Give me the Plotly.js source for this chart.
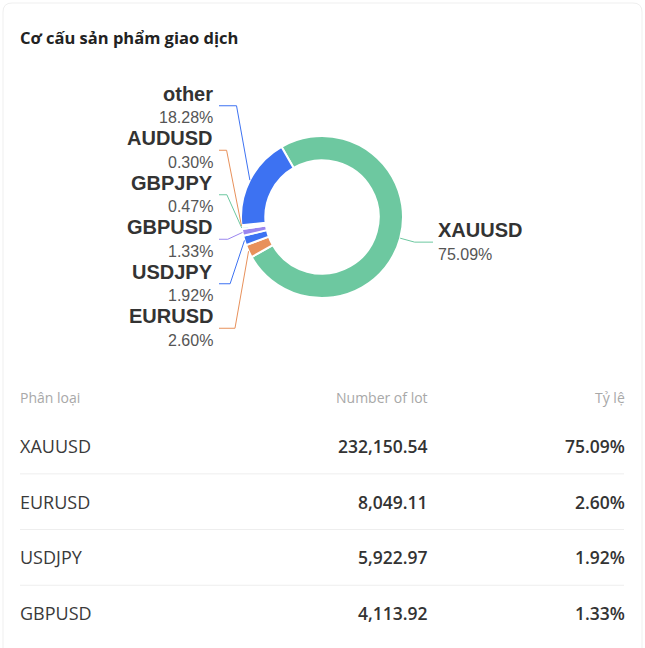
<!DOCTYPE html>
<html><head><meta charset="utf-8">
<script src="https://cdn.plot.ly/plotly-3.0.1.min.js"></script>
<style>html,body{margin:0;padding:0;background:#fff;}#chart{width:645px;height:648px;}</style>
</head><body><div id="chart"></div>
<script>
// ---- data ----
const chartTitle = 'Cơ cấu sản phẩm giao dịch';
const pieLabels = ['XAUUSD', 'EURUSD', 'USDJPY', 'GBPUSD', 'GBPJPY', 'AUDUSD', 'other'];
const piePercents = [75.09, 2.60, 1.92, 1.33, 0.47, 0.30, 18.28];
const tableHeaders = ['Phân loại', 'Number of lot', 'Tỷ lệ'];
const tableCategories = ['XAUUSD', 'EURUSD', 'USDJPY', 'GBPUSD'];
const tableLots = [232150.54, 8049.11, 5922.97, 4113.92];
const tablePercents = [75.09, 2.60, 1.92, 1.33];

// ---- style / layout ----
const palette = ['#6dc8a0', '#e8915b', '#3d72f2', '#9b86ef'];
const FONT = '"Open Sans", "Noto Sans", sans-serif';
const LABEL_FONT = '"Liberation Sans", Arial, sans-serif';
const W = 645, H = 648;
const CX = 322, CY = 217, R = 81, HOLE = 0.7, ROT = -30;
const LABEL_STEP = 44.5;

const colors = pieLabels.map((_, i) => palette[i % palette.length]);
const total = piePercents.reduce((a, b) => a + b, 0);

// slice mid angles (degrees clockwise from 12 o'clock)
let cum = 0;
const mids = piePercents.map(v => {
  const s = ROT + 360 * cum / total;
  cum += v;
  return s + 180 * v / total;
});
const rad = d => d * Math.PI / 180;
const pt = (ang, r) => [CX + r * Math.sin(rad(ang)), CY - r * Math.cos(rad(ang))];
const norm = a => ((a % 360) + 360) % 360;

const shapes = [];
const annotations = [];

// card border
shapes.push({type: 'path', xref: 'x', yref: 'y', layer: 'below',
  path: 'M 3,' + H + ' L 3,12 Q 3,3 12,3 L 633,3 Q 642,3 642,12 L 642,' + H,
  line: {color: '#efefef', width: 1}});

// pie labels with leader lines
const left = [], right = [];
pieLabels.forEach((lab, i) => {
  (Math.sin(rad(mids[i])) >= 0 ? right : left).push(i);
});
left.sort((a, b) => norm(mids[b]) - norm(mids[a]));

function addLabel(i, ly, side, elbow) {
  const start = pt(mids[i], R);
  const endX = side === 'left' ? CX - 103 : CX + 111;
  shapes.push({type: 'path', xref: 'x', yref: 'y',
    path: `M ${start[0]},${start[1]} L ${elbow[0]},${ly} L ${endX},${ly}`,
    line: {color: colors[i], width: 1}});
  const tx = side === 'left' ? CX - 108 : CX + 115;
  const anchor = side === 'left' ? 'right' : 'left';
  annotations.push({xref: 'x', yref: 'y', x: tx, y: ly - 12, xanchor: anchor, yanchor: 'middle',
    text: pieLabels[i], showarrow: false, borderpad: 0,
    font: {family: LABEL_FONT, size: 20, color: '#333', weight: 700}});
  annotations.push({xref: 'x', yref: 'y', x: tx, y: ly + 12, xanchor: anchor, yanchor: 'middle',
    text: piePercents[i].toFixed(2) + '%', showarrow: false, borderpad: 0,
    font: {family: LABEL_FONT, size: 16, color: '#555'}});
}
left.forEach((i, k) => {
  const ly = CY + (k - (left.length - 1) / 2) * LABEL_STEP;
  addLabel(i, ly, 'left', pt(mids[i], R + 15));
});
right.forEach(i => {
  const e = pt(mids[i], R + 15);
  addLabel(i, e[1], 'right', e);
});

// table
const colX = [18, 430, 627];
const colAnchor = ['left', 'right', 'right'];
const HEAD_Y = 397, ROW_Y0 = 446, ROW_STEP = 55.7;
tableHeaders.forEach((h, c) => {
  annotations.push({xref: 'x', yref: 'y', x: colX[c], y: HEAD_Y, xanchor: colAnchor[c], yanchor: 'middle',
    text: h, showarrow: false, font: {family: FONT, size: 14, color: '#a8a8a8'}});
});
tableCategories.forEach((cat, r) => {
  const y = ROW_Y0 + r * ROW_STEP;
  const cells = [cat,
    tableLots[r].toLocaleString('en-US', {minimumFractionDigits: 2, maximumFractionDigits: 2}),
    tablePercents[r].toFixed(2) + '%'];
  cells.forEach((t, c) => {
    annotations.push({xref: 'x', yref: 'y', x: colX[c], y: y, xanchor: colAnchor[c], yanchor: 'middle',
      text: t, showarrow: false,
      font: {family: FONT, size: c === 0 ? 18 : 17.5, color: c === 0 ? '#3a3a3a' : '#333', weight: c === 0 ? 400 : 600}});
  });
  if (r < tableCategories.length - 1) {
    const sy = y + ROW_STEP / 2;
    shapes.push({type: 'line', xref: 'x', yref: 'y', x0: 20, x1: 624, y0: sy, y1: sy,
      line: {color: '#eeeeee', width: 1}});
  }
});

const trace = {
  type: 'pie',
  labels: pieLabels,
  values: piePercents,
  sort: false,
  direction: 'clockwise',
  rotation: ROT,
  hole: HOLE,
  textinfo: 'none',
  hoverinfo: 'label+percent',
  showlegend: false,
  marker: {colors: colors, line: {color: '#ffffff', width: 2}},
  domain: {x: [(CX - R) / W, (CX + R) / W], y: [1 - (CY + R) / H, 1 - (CY - R) / H]}
};

const layout = {
  width: W, height: H,
  margin: {l: 0, r: 0, t: 0, b: 0},
  paper_bgcolor: '#ffffff', plot_bgcolor: '#ffffff',
  title: {text: chartTitle, xref: 'paper', yref: 'paper', x: 20 / W, xanchor: 'left',
    y: 1 - 38 / H, yanchor: 'middle', font: {family: FONT, size: 16.5, color: '#222', weight: 700}},
  xaxis: {range: [0, W], visible: false, fixedrange: true},
  yaxis: {range: [H, 0], visible: false, fixedrange: true},
  shapes: shapes,
  annotations: annotations,
  showlegend: false
};

Plotly.newPlot('chart', [trace], layout, {displayModeBar: false, staticPlot: true});
</script></body></html>
